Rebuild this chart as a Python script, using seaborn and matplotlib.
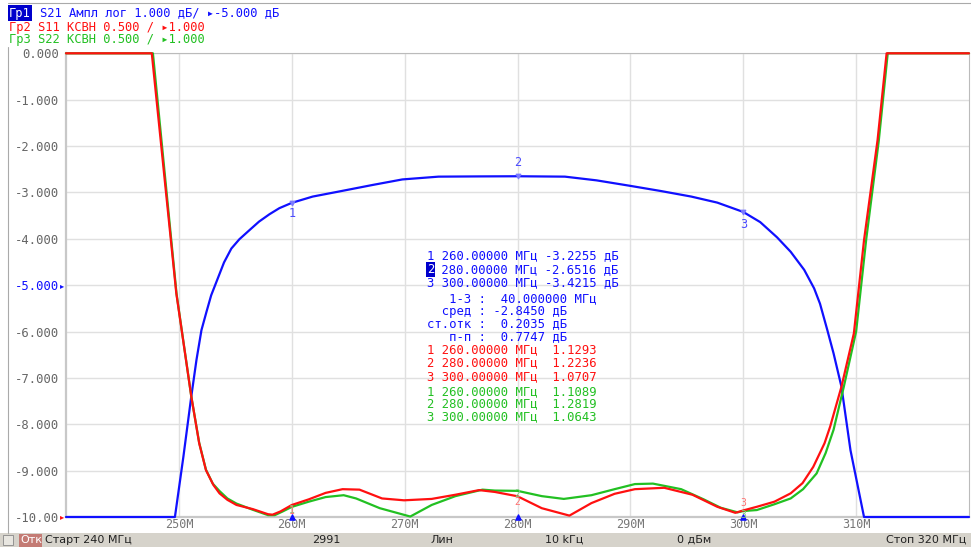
import matplotlib
matplotlib.use("Agg")
from matplotlib import pyplot as plt
from matplotlib.patches import Rectangle
import seaborn as sns

# S21, dB (trace Гр1)
s21_freq = [240.0, 249.65, 250.4, 251.1, 251.56, 252.0, 252.44, 252.86, 253.47, 254.0, 254.65, 255.36,
            256.27, 257.1, 258.03, 258.9, 260.0, 261.85, 264.2, 267.15, 269.8, 273.0, 276.5, 280.0,
            284.2, 287.0, 289.9, 292.7, 295.4, 297.7, 300.0, 301.5, 303.0, 304.2, 305.4, 306.28,
            306.8, 307.45, 308.0, 308.7, 309.5, 310.7, 320.0]
s21_db = [-10.0, -10.0, -8.70, -7.40, -6.61, -5.97, -5.58, -5.22, -4.84, -4.51, -4.21, -4.01,
          -3.81, -3.63, -3.47, -3.34, -3.2255, -3.09, -2.98, -2.84, -2.72, -2.66, -2.655, -2.6516,
          -2.66, -2.74, -2.855, -2.97, -3.09, -3.22, -3.4215, -3.64, -3.97, -4.28, -4.67, -5.07,
          -5.40, -5.97, -6.47, -7.19, -8.56, -10.0, -10.0]

# S11, VSWR (trace Гр2)
s11_freq = [240.0, 247.6, 249.77, 251.1, 251.8, 252.4, 253.06, 253.6, 254.3, 255.1, 256.55, 257.9,
            258.3, 259.0, 260.0, 261.5, 263.0, 264.5, 266.0, 268.0, 269.95, 272.4, 274.5, 276.6,
            278.0, 280.0, 282.15, 284.6, 286.55, 288.6, 290.4, 293.0, 295.5, 297.7, 299.3, 300.0,
            301.2, 302.76, 304.2, 305.25, 306.2, 307.2, 307.7, 308.7, 309.8, 310.7, 311.9, 312.7, 320.0]
s11_vswr = [6.0, 6.0, 3.415, 2.30, 1.795, 1.505, 1.345, 1.255, 1.185, 1.13, 1.085, 1.03,
            1.025, 1.06, 1.1293, 1.19, 1.26, 1.30, 1.295, 1.20, 1.18, 1.195, 1.24, 1.29,
            1.27, 1.2236, 1.095, 1.015, 1.15, 1.25, 1.30, 1.315, 1.24, 1.11, 1.045, 1.0707,
            1.11, 1.165, 1.255, 1.365, 1.54, 1.795, 1.975, 2.405, 2.98, 3.985, 5.065, 6.0, 6.0]

# S22, VSWR (trace Гр3)
s22_freq = [240.0, 247.7, 249.8, 251.1, 251.8, 252.4, 253.0, 253.6, 254.3, 255.1, 256.5, 257.9,
            258.5, 259.2, 260.0, 261.5, 263.0, 264.6, 265.7, 267.8, 270.5, 272.4, 274.5, 276.9,
            278.0, 280.0, 282.15, 284.1, 286.55, 288.6, 290.4, 292.0, 294.5, 296.5, 298.0, 299.5,
            300.0, 301.2, 302.7, 304.2, 305.3, 306.5, 307.3, 308.0, 308.9, 310.0, 310.9, 312.0, 312.8, 320.0]
s22_vswr = [6.0, 6.0, 3.40, 2.30, 1.80, 1.51, 1.36, 1.28, 1.20, 1.145, 1.08, 1.02,
            1.02, 1.06, 1.1089, 1.165, 1.215, 1.235, 1.20, 1.095, 1.005, 1.13, 1.225, 1.295,
            1.285, 1.2819, 1.225, 1.195, 1.235, 1.30, 1.355, 1.36, 1.30, 1.19, 1.10, 1.05,
            1.0643, 1.075, 1.135, 1.20, 1.30, 1.47, 1.69, 1.94, 2.40, 3.0, 4.0, 5.05, 6.0, 6.0]

# markers
mk_freq = [260, 280, 300]
mk_s21 = [-3.2255, -2.6516, -3.4215]
mk_s11 = [1.1293, 1.2236, 1.0707]
mk_s22 = [1.1089, 1.2819, 1.0643]
stat_span = 40.0
stat_mean = -2.8450
stat_std = 0.2035
stat_pp = 0.7747

x_ticks = [250, 260, 270, 280, 290, 300, 310]
y_ticks = [0, -1, -2, -3, -4, -5, -6, -7, -8, -9, -10]

BLUE = "#1010ff"
RED = "#ff1010"
GREEN = "#22c022"
GRAY = "#666666"
MONO = ["DejaVu Sans Mono", "DejaVu Sans"]

sns.set_style("white")

W, H = 971, 547
fig = plt.figure(figsize=(W / 100, H / 100), dpi=100)
fig.patch.set_facecolor("white")


def px(x, y):
    # pixel position (from top-left) -> figure fraction
    return x / W, 1 - y / H


ax = fig.add_axes([66 / W, 30 / H, (969 - 66) / W, (517 - 53.3) / H])
ax2 = ax.twinx()

sns.lineplot(x=s21_freq, y=s21_db, ax=ax, color=BLUE, lw=1.6, clip_on=False, zorder=3)
sns.lineplot(x=s22_freq, y=s22_vswr, ax=ax2, color=GREEN, lw=1.6, clip_on=False)
sns.lineplot(x=s11_freq, y=s11_vswr, ax=ax2, color=RED, lw=1.6, clip_on=False)

ax.set_xlim(240, 320)
ax.set_ylim(-10, 0)
ax2.set_ylim(1.0, 6.0)
ax2.set_yticks([])
ax2.set_ylabel("")
for s in ax2.spines.values():
    s.set_visible(False)

ax.set_xticks(x_ticks)
ax.set_xticklabels([f"{t}М" for t in x_ticks], family=MONO, fontsize=8.5, color="#777777")
ax.set_yticks(y_ticks)
ylabels = [f"{t:.3f}" if t > -10 else "-10.00" for t in y_ticks]
ax.set_yticklabels(ylabels, family=MONO, fontsize=8.8, color=GRAY)
for lab, t in zip(ax.get_yticklabels(), y_ticks):
    if t == -5:
        lab.set_color(BLUE)
ax.tick_params(axis="both", length=0)
ax.tick_params(axis="y", pad=5)
ax.tick_params(axis="x", pad=1)
ax.grid(True, color="#e0e0e0", lw=1)
ax.set_axisbelow(True)
for side in ["left", "bottom"]:
    ax.spines[side].set_color("#c8c8c8")
    ax.spines[side].set_linewidth(1.6)
for side in ["top", "right"]:
    ax.spines[side].set_color("#bbbbbb")
    ax.spines[side].set_linewidth(0.8)
ax.set_xlabel("")
ax.set_ylabel("")

# reference level arrows
ax.annotate("▸", xy=(240, -5), xytext=(-3, 0), textcoords="offset points", ha="center", va="center",
            color=BLUE, fontsize=6, annotation_clip=False)
ax.annotate("▸", xy=(240, -10), xytext=(-3, 0), textcoords="offset points", ha="center", va="center",
            color=RED, fontsize=6, annotation_clip=False)

# marker labels on S21
mk_off = [(0, -8), (0, 10), (0, -9)]
for i, (f, v) in enumerate(zip(mk_freq, mk_s21)):
    ax.scatter([f], [v], marker="v", s=10, color="#7a7aff", zorder=4)
    ax.annotate(str(i + 1), xy=(f, v), xytext=mk_off[i], textcoords="offset points",
                ha="center", va="center", color="#4a4aff", fontsize=8.5, family=MONO)
    ax.scatter([f], [-10], marker="^", s=14, color=BLUE, zorder=5, clip_on=False)

# marker labels on S11 / S22
s22_off = [(0, -2), (0, -2), (0, -3)]
s11_off = [(0, -4), (0, -4), (0, 5)]
for i, f in enumerate(mk_freq):
    ax2.annotate(str(i + 1), xy=(f, mk_s22[i]), xytext=s22_off[i], textcoords="offset points",
                 ha="center", va="center", color="#7fcf7f", fontsize=7, family=MONO)
    ax2.annotate(str(i + 1), xy=(f, mk_s11[i]), xytext=s11_off[i], textcoords="offset points",
                 ha="center", va="center", color="#ff7070", fontsize=7, family=MONO)

# marker table
tx = 427
cw = 8.8 * 0.602 * 100 / 72  # mono char width, px
rows = [
    (tx, f"1 {mk_freq[0]:.5f} МГц {mk_s21[0]:.4f} дБ", BLUE, 256),
    (tx + cw, f" {mk_freq[1]:.5f} МГц {mk_s21[1]:.4f} дБ", BLUE, 269.5),
    (tx, f"3 {mk_freq[2]:.5f} МГц {mk_s21[2]:.4f} дБ", BLUE, 283),
    (tx, f"   1-3 :  {stat_span:.6f} МГц", BLUE, 298.5),
    (tx, f"  сред : {stat_mean:.4f} дБ", BLUE, 311),
    (tx, f"ст.отк :  {stat_std:.4f} дБ", BLUE, 323.5),
    (tx, f"   п-п :  {stat_pp:.4f} дБ", BLUE, 336.5),
]
for i, f in enumerate(mk_freq):
    rows.append((tx, f"{i + 1} {f:.5f} МГц  {mk_s11[i]:.4f}", RED, 349.5 + 13.5 * i))
for i, f in enumerate(mk_freq):
    rows.append((tx, f"{i + 1} {f:.5f} МГц  {mk_s22[i]:.4f}", GREEN, 391.5 + 12.7 * i))
for xx, text, col, yy in rows:
    fig.text(*px(xx, yy), text, color=col, fontsize=8.8, family=MONO, va="center", ha="left")
fig.text(*px(tx, 269.5), "2", color="white", fontsize=8.8, family=MONO, va="center", ha="left",
         bbox=dict(boxstyle="square,pad=0.05", fc="#0000cc", ec="none"))

# header
fig.text(*px(9, 13), "Гр1", color="white", fontsize=8.7, family=MONO, va="center",
         bbox=dict(boxstyle="square,pad=0.1", fc="#0000cc", ec="none"))
fig.text(*px(40, 13), "S21 Ампл лог 1.000 дБ/ ▸-5.000 дБ", color=BLUE, fontsize=8.7, family=MONO, va="center")
fig.text(*px(9, 27), "Гр2 S11 КСВН 0.500 / ▸1.000", color=RED, fontsize=8.7, family=MONO, va="center")
fig.text(*px(9, 40), "Гр3 S22 КСВН 0.500 / ▸1.000", color=GREEN, fontsize=8.7, family=MONO, va="center")

# frame lines
fig.add_artist(plt.Line2D([8 / W, 1], [1 - 3 / H] * 2, color="#aaaaaa", lw=0.8))
fig.add_artist(plt.Line2D([8 / W] * 2, [1 - 47 / H, 1 - 533 / H], color="#aaaaaa", lw=0.8))

# status bar
fig.add_artist(Rectangle((0, 0), 1, 14 / H, transform=fig.transFigure, fc="#d6d3cb", ec="none"))
fig.add_artist(Rectangle((3 / W, 2 / H), 10 / W, 10 / H, transform=fig.transFigure, fc="#e8e6e0",
                         ec="#888888", lw=0.6))
fig.add_artist(Rectangle((19 / W, 0.5 / H), 23 / W, 13 / H, transform=fig.transFigure, fc="#c47b74", ec="none"))
fig.text(*px(20, 540), "Отк", color="white", fontsize=8, va="center", ha="left")
status = [(45, "Старт 240 МГц"), (312, "2991"), (430, "Лин"), (545, "10 kГц"), (677, "0 дБм")]
for xx, t in status:
    fig.text(*px(xx, 540), t, color="#222222", fontsize=8, va="center", ha="left")
fig.text(*px(966, 540), "Стоп 320 МГц", color="#222222", fontsize=8, va="center", ha="right")

fig.savefig("out.png", dpi=100)
